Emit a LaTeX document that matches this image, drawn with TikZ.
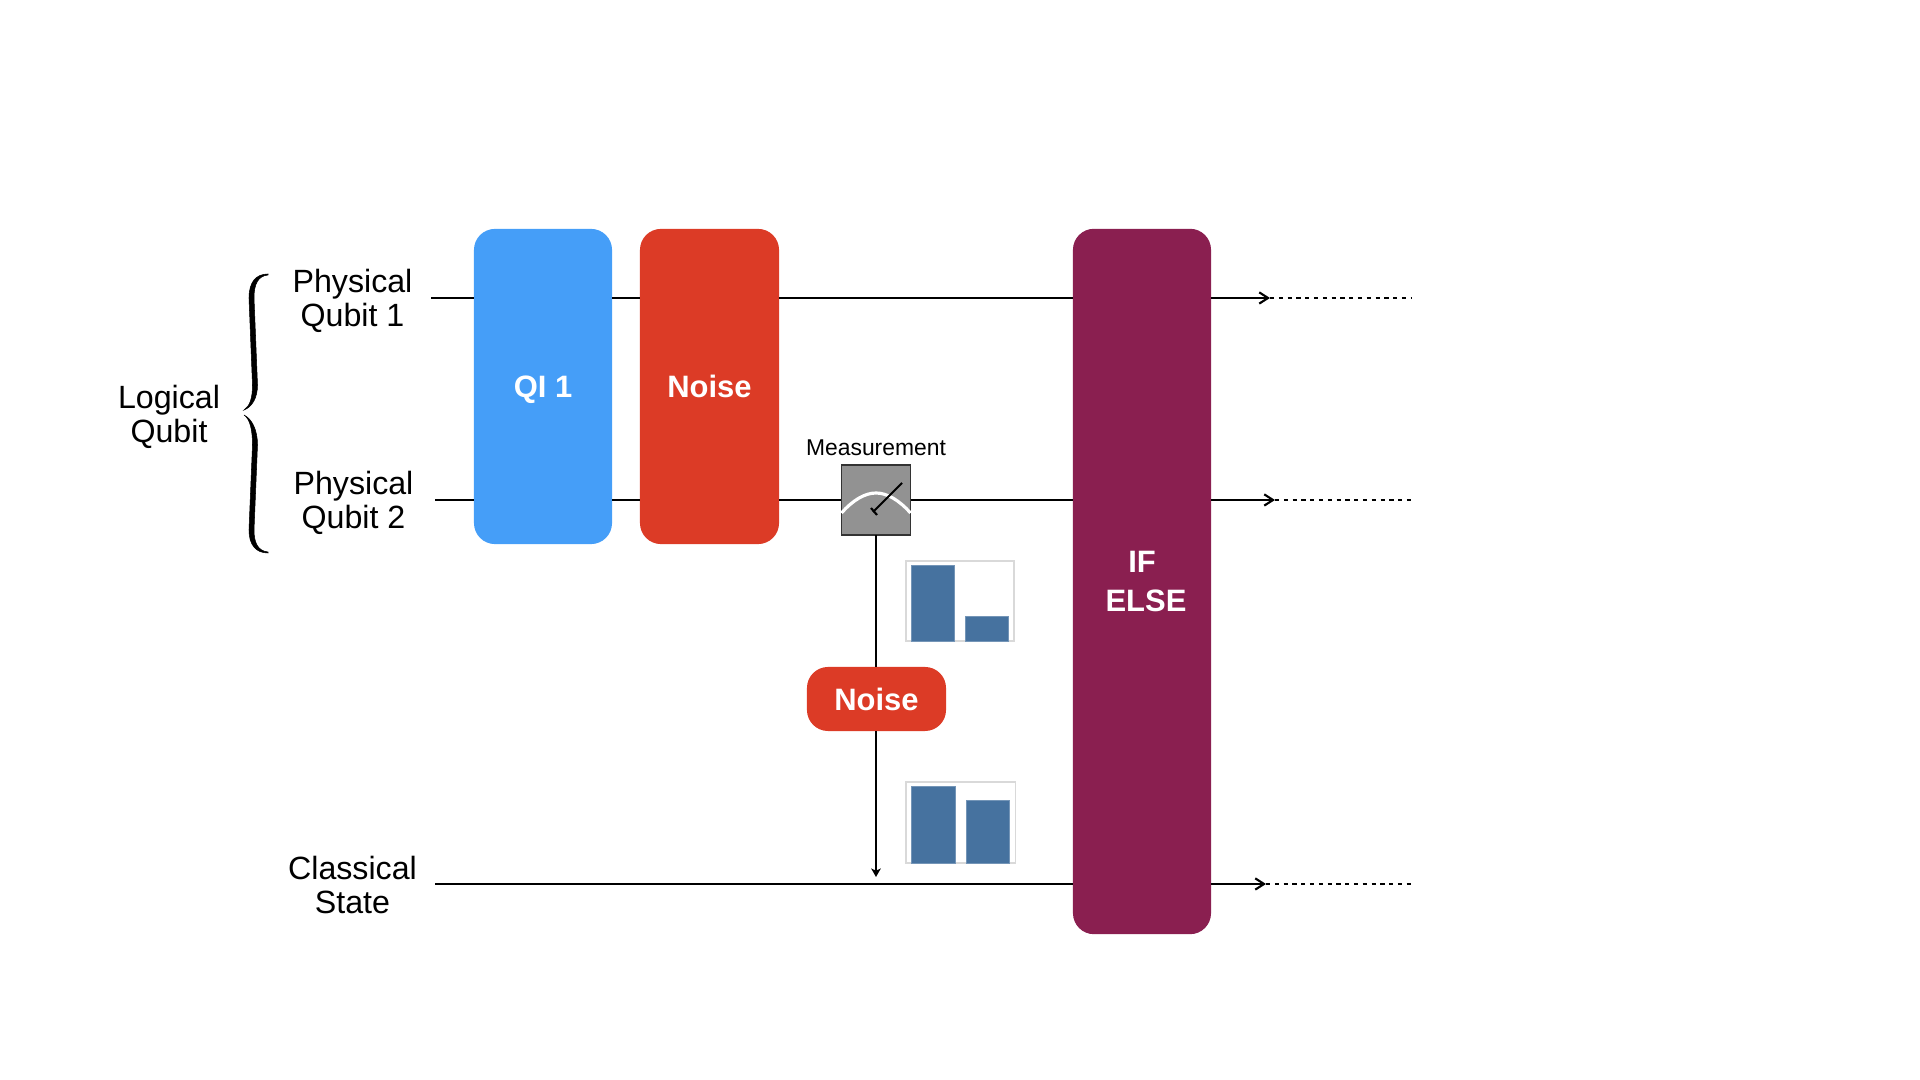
\documentclass[tikz,border=0pt]{standalone}
\usepackage{fontspec}
\setmainfont{Liberation Sans}
\usepackage{xcolor}
\usetikzlibrary{arrows.meta,positioning,calc}
\definecolor{gateblue}{HTML}{459EF8}
\definecolor{gatered}{HTML}{DC3B26}
\definecolor{gatepurple}{HTML}{8A1F50}
\definecolor{metergray}{HTML}{929292}
\definecolor{barblue}{HTML}{46729F}
\definecolor{chartline}{HTML}{D9D9D9}
\tikzset{
  gatebox/.style={
    rounded corners=0.21cm, inner sep=0pt, outer sep=0pt, align=center,
    text=white, font=\fontsize{8.8}{11}\selectfont\bfseries,
    text height=0.22cm, text depth=0cm
  },
  wirelabel/.style={
    align=center, inner sep=0pt,
    font=\fontsize{9.15}{9.7}\selectfont
  },
  wire/.style={draw=black, line width=0.6pt},
  outwire/.style={wire, -{Straight Barb[length=2.5pt,width=3.2pt]}},
  dotwire/.style={draw=black, line width=0.65pt, dash pattern=on 1.2pt off 1.3pt},
  meterbox/.style={
    draw=black!80, fill=metergray, line width=0.5pt, outer sep=0pt,
    minimum width=0.69cm, minimum height=0.70cm, inner sep=0pt
  },
  chartframe/.style={draw=chartline, fill=white, line width=0.4pt},
  chartbar/.style={fill=barblue, draw=barblue!75!white, line width=0.15pt},
  bracefill/.style={fill=black, draw=black, line width=0.15pt}
}
\begin{document}
\begin{tikzpicture}[x=0.01cm,y=-0.01cm]
  \useasboundingbox (0,0) rectangle (1920,1080);

  % gates
  \node[gatebox,fill=gateblue,minimum width=1.38cm,minimum height=3.15cm] (qi) at (543,386.5) {QI 1};
  \node[gatebox,fill=gatered,minimum width=1.39cm,minimum height=3.15cm] (noisetop) at (709.5,386.5) {Noise};
  \node[gatebox,fill=gatepurple,minimum width=1.38cm,minimum height=7.05cm,text height=,text depth=] (ifelse) at (1142,581.5) {IF\\\hspace*{0.08cm}ELSE};
  \node[meterbox] (meter) at (876,500) {};
  \node[gatebox,fill=gatered,minimum width=1.39cm,minimum height=0.64cm,text height=0.24cm] (noiselow) at (876.5,699) {Noise};

  % labels
  \node[wirelabel] (phys1) at (352.5,300.5) {Physical\\Qubit 1};
  \node[wirelabel] (phys2) at (353.5,503) {Physical\\Qubit 2};
  \node[wirelabel] (classical) at (352.5,885) {Classical\\State};
  \node[wirelabel] (logical) at (169,417) {Logical\\Qubit};
  \node[inner sep=0pt,font=\fontsize{6.5}{8}\selectfont] (measlabel) at (876,448) {Measurement};

  % wire ends
  \coordinate (start1) at (431,298);
  \coordinate (start2) at (435,500);
  \coordinate (start3) at (435,884);
  \coordinate (arrow1) at (1270,298);
  \coordinate (arrow2) at (1275,500);
  \coordinate (arrow3) at (1266,884);
  \coordinate (end1) at (1411,298);
  \coordinate (end2) at (1411,500);
  \coordinate (end3) at (1411,884);
  \coordinate (readout) at (876,877);

  % wires
  \draw[wire] (start1) -- (qi.west |- start1);
  \draw[wire] (qi.east |- start1) -- (noisetop.west |- start1);
  \draw[wire] (noisetop.east |- start1) -- (ifelse.west |- start1);
  \draw[wire] (start2) -- (qi.west |- start2);
  \draw[wire] (qi.east |- start2) -- (noisetop.west |- start2);
  \draw[wire] (noisetop.east |- start2) -- (meter.west);
  \draw[wire] (meter.east) -- (ifelse.west |- start2);
  \draw[wire] (start3) -- (ifelse.west |- start3);
  \draw[wire] (meter.south) -- (meter.south |- noiselow.north);
  \draw[wire,-{Stealth[length=2.4pt,width=2.7pt,inset=0.6pt]}] (meter.south |- noiselow.south) -- (readout);

  % outputs
  \foreach \n in {1,2,3}{
    \draw[dotwire] (arrow\n) -- (end\n);
    \draw[outwire] (ifelse.east |- arrow\n) -- (arrow\n);
  }

  % meter dial
  \draw[white,line width=0.9pt] (meter.west |- 0,513) .. controls (853,500) and (865,493) .. (876,493) .. controls (887,493) and (899,500) .. (meter.east |- 0,513);
  \draw[black,line width=0.6pt] (873,512) -- (902,483);
  \draw[black,line width=0.6pt] (871,508) -- (877,515);

  % charts
  \draw[chartframe] (906,561) rectangle (1014,641);
  \fill[chartbar] (911,565) rectangle (954,641);
  \fill[chartbar] (965,616) rectangle (1008,641);
  \draw[chartframe] (906,782) rectangle (1015.5,863);
  \fill[chartbar] (911.5,786) rectangle (955,863);
  \fill[chartbar] (966,800) rectangle (1009,863);

  % braces
  \path[bracefill] (268,274) .. controls (256,274) and (249,282) .. (249,298) -- (252.5,385) .. controls (252.5,398) and (250,406) .. (244,410)
    .. controls (252,407) and (257.5,398) .. (257.5,385) -- (254,298) .. controls (254,284) and (258,276) .. (268,275) -- cycle;
  \path[bracefill] (244,415) .. controls (250,419) and (252.5,430) .. (252.5,445) -- (249,530) .. controls (249,545) and (256,553) .. (268,553)
    -- (268,552) .. controls (258,551) and (254,543) .. (254,530) -- (257.5,445) .. controls (257.5,430) and (252,419) .. (244,415) -- cycle;
\end{tikzpicture}
\end{document}
